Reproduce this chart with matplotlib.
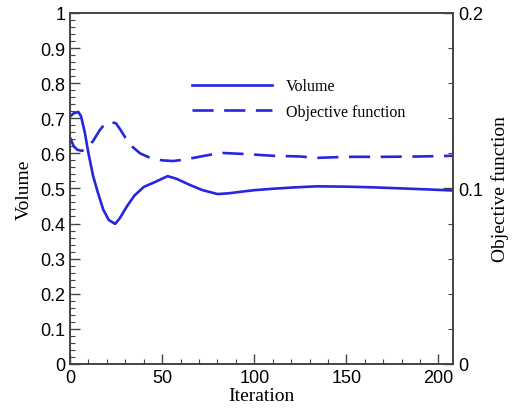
import matplotlib.pyplot as plt
from matplotlib.ticker import MultipleLocator, FuncFormatter

# ── Data ───────────────────────────────────────────────────────────────────
vol_iter = [0, 2, 4.5, 6, 8, 10, 12.5, 15, 18, 21, 24.5, 27, 31, 35, 40, 46,
            53, 58, 65, 72, 80, 86, 92, 100, 110, 122, 134, 150, 165, 180, 195, 208]
volume = [0.705, 0.714, 0.718, 0.705, 0.66, 0.60, 0.536, 0.49, 0.44, 0.41, 0.399,
          0.415, 0.45, 0.48, 0.504, 0.518, 0.535, 0.527, 0.510, 0.495, 0.484, 0.486,
          0.490, 0.495, 0.499, 0.503, 0.506, 0.505, 0.503, 0.500, 0.497, 0.494]

obj_iter = [0, 2, 4, 6.5, 9, 12.5, 16, 19, 22, 25, 27, 30, 34, 38, 43.5, 50,
            56, 62, 68, 75, 83, 95, 110, 125, 134, 150, 170, 190, 208]
objective = [0.1290, 0.1240, 0.1220, 0.1214, 0.1230, 0.1270, 0.1330, 0.1370, 0.1380,
             0.1370, 0.1340, 0.1290, 0.1236, 0.1200, 0.1174, 0.1160, 0.1156, 0.1164,
             0.1176, 0.1190, 0.1202, 0.1196, 0.1186, 0.1182, 0.1174, 0.1180, 0.1180,
             0.1182, 0.1186]

plt.rcParams.update({"font.size": 12, "font.family": "Liberation Sans"})
blue = "#2626e0"
serif = "Liberation Serif"

fig = plt.figure(figsize=(5.15, 4.1), dpi=100)
ax = fig.add_axes([0.136, 0.110, 0.744, 0.856])
ax2 = ax.twinx()

l1, = ax.plot(vol_iter, volume, color=blue, lw=1.9, label="Volume")
l2, = ax2.plot(obj_iter, objective, color=blue, lw=1.9, dashes=(8, 4),
               label="Objective function")

ax.set_xlim(0, 208)
ax.set_ylim(0, 1)
ax2.set_ylim(0, 0.2)

fmt = FuncFormatter(lambda v, p: f"{v:g}")
ax.xaxis.set_major_locator(MultipleLocator(50))
ax.xaxis.set_minor_locator(MultipleLocator(10))
ax.yaxis.set_major_locator(MultipleLocator(0.1))
ax.yaxis.set_minor_locator(MultipleLocator(0.02))
ax.yaxis.set_major_formatter(fmt)
ax2.yaxis.set_major_locator(MultipleLocator(0.1))
ax2.yaxis.set_minor_locator(MultipleLocator(0.02))
ax2.yaxis.set_major_formatter(fmt)

ax.tick_params(which="both", direction="in", top=False, right=False,
               labelsize=13, color="#444444")
ax.tick_params(which="major", length=7, width=1)
ax.tick_params(which="minor", length=3.5, width=0.8)
ax2.tick_params(which="both", direction="in", labelsize=13, color="#444444")
ax2.tick_params(which="major", length=7, width=1)
ax2.tick_params(which="minor", length=3.5, width=0.8)

for a in (ax, ax2):
    for s in a.spines.values():
        s.set_color("#444444")
        s.set_linewidth(1.2)

ax.set_xlabel("Iteration", family=serif, fontsize=14, labelpad=1)
ax.set_ylabel("Volume", family=serif, fontsize=14, labelpad=5)
ax2.set_ylabel("Objective function", family=serif, fontsize=14, labelpad=6)

ax.legend(handles=[l1, l2], loc="upper left", bbox_to_anchor=(0.28, 0.855),
          frameon=False, prop={"family": serif, "size": 11.5},
          handlelength=5.0, handletextpad=0.9, labelspacing=0.6)

plt.savefig("out.png", dpi=100)
plt.close()
